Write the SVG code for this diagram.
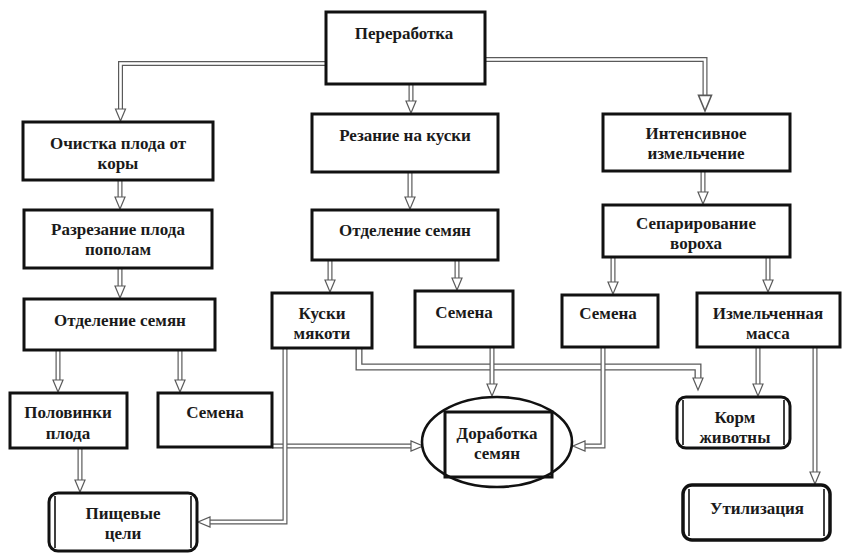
<svg xmlns="http://www.w3.org/2000/svg" width="843" height="553" viewBox="0 0 843 553">
  <defs>
    <style>
      .box { fill: #fff; stroke: #111; stroke-width: 3; }
      .term { fill: #fff; stroke: #111; stroke-width: 3; }
      .side { fill: none; stroke: #111; stroke-width: 1.6; }
      .lbl { font-family: "Liberation Serif", "Times New Roman", serif; font-weight: bold; font-size: 17px; fill: #1a1a1a; text-anchor: middle; dominant-baseline: central; }
      .pipe-o { fill: none; stroke: #5a5a5a; stroke-width: 5; stroke-linejoin: miter; }
      .pipe-i { fill: none; stroke: #fff; stroke-width: 2.6; stroke-linejoin: miter; }
      .head { fill: #fff; stroke: #5a5a5a; stroke-width: 1.2; stroke-linejoin: miter; }
    </style>
    <!-- hollow arrowhead, tip at origin, pointing down -->
    <path id="hd" d="M-5,-12 L5,-12 L0,0 Z"/>
  </defs>
  <rect width="843" height="553" fill="#fff"/>

  <!-- connectors: double-line pipes with hollow heads -->
  <g id="connectors">
    <g id="shafts">
      <path class="pipe-o" d="M326,63.5 H120.5 V110"/>
      <path class="pipe-i" d="M326,63.5 H120.5 V110"/>
      <path class="pipe-o" d="M411,84 V102"/>
      <path class="pipe-i" d="M411,84 V102"/>
      <path class="pipe-o" d="M485,59.5 H705 V96"/>
      <path class="pipe-i" d="M485,59.5 H705 V96"/>
      <path class="pipe-o" d="M120,180 V198"/>
      <path class="pipe-i" d="M120,180 V198"/>
      <path class="pipe-o" d="M120,268 V287"/>
      <path class="pipe-i" d="M120,268 V287"/>
      <path class="pipe-o" d="M58,350 V381"/>
      <path class="pipe-i" d="M58,350 V381"/>
      <path class="pipe-o" d="M180,350 V381"/>
      <path class="pipe-i" d="M180,350 V381"/>
      <path class="pipe-o" d="M80,448 V481"/>
      <path class="pipe-i" d="M80,448 V481"/>
      <path class="pipe-o" d="M410,172 V198"/>
      <path class="pipe-i" d="M410,172 V198"/>
      <path class="pipe-o" d="M330,260 V281"/>
      <path class="pipe-i" d="M330,260 V281"/>
      <path class="pipe-o" d="M457,260 V279"/>
      <path class="pipe-i" d="M457,260 V279"/>
      <path class="pipe-o" d="M703,171 V193"/>
      <path class="pipe-i" d="M703,171 V193"/>
      <path class="pipe-o" d="M613,257 V283"/>
      <path class="pipe-i" d="M613,257 V283"/>
      <path class="pipe-o" d="M768,257 V281"/>
      <path class="pipe-i" d="M768,257 V281"/>
      <path class="pipe-o" d="M272,446 H412"/>
      <path class="pipe-i" d="M272,446 H412"/>
      <path class="pipe-o" d="M285,348 V522 H209"/>
      <path class="pipe-i" d="M285,348 V522 H209"/>
      <path class="pipe-o" d="M359,348 V367 H698 V378" style="stroke-width:7"/>
      <path class="pipe-i" d="M359,348 V367 H698 V378" style="stroke-width:4.4"/>
      <path class="pipe-o" d="M492,347 V384"/>
      <path class="pipe-i" d="M492,347 V384"/>
      <path class="pipe-o" d="M603,347 V446 H584"/>
      <path class="pipe-i" d="M603,347 V446 H584"/>
      <path class="pipe-o" d="M758,347 V385"/>
      <path class="pipe-i" d="M758,347 V385"/>
      <path class="pipe-o" d="M815,347 V472"/>
      <path class="pipe-i" d="M815,347 V472"/>
    </g>
    <g id="heads">
      <use href="#hd" class="head" transform="translate(120.5,121)"/>
      <use href="#hd" class="head" transform="translate(411,113)"/>
      <use href="#hd" class="head" transform="translate(705,111) scale(1.3)"/>
      <use href="#hd" class="head" transform="translate(120,209)"/>
      <use href="#hd" class="head" transform="translate(120,298)"/>
      <use href="#hd" class="head" transform="translate(58,392)"/>
      <use href="#hd" class="head" transform="translate(180,392)"/>
      <use href="#hd" class="head" transform="translate(80,492)"/>
      <use href="#hd" class="head" transform="translate(410,209)"/>
      <use href="#hd" class="head" transform="translate(330,292)"/>
      <use href="#hd" class="head" transform="translate(457,290)"/>
      <use href="#hd" class="head" transform="translate(703,204)"/>
      <use href="#hd" class="head" transform="translate(613,294)"/>
      <use href="#hd" class="head" transform="translate(768,292)"/>
      <use href="#hd" class="head" transform="translate(423,446) rotate(-90)"/>
      <use href="#hd" class="head" transform="translate(198,522) rotate(90)"/>
      <use href="#hd" class="head" transform="translate(698,390)"/>
      <use href="#hd" class="head" transform="translate(492,396)"/>
      <use href="#hd" class="head" transform="translate(573,446) rotate(90)"/>
      <use href="#hd" class="head" transform="translate(758,396)"/>
      <use href="#hd" class="head" transform="translate(815,484)"/>
    </g>
  </g>

  <g id="n-pererabotka">
    <rect class="box" x="326" y="12" width="159" height="72"/>
    <text class="lbl" x="404" y="33">Переработка</text>
  </g>

  <!-- left branch -->
  <g id="n-ochistka">
    <rect class="box" x="23" y="122" width="190" height="58"/>
    <text class="lbl" x="118" y="143">Очистка плода от</text>
    <text class="lbl" x="118" y="163">коры</text>
  </g>
  <g id="n-razrezanie">
    <rect class="box" x="24" y="210" width="188" height="58"/>
    <text class="lbl" x="118" y="229">Разрезание плода</text>
    <text class="lbl" x="118" y="249">пополам</text>
  </g>
  <g id="n-otdelenie-1">
    <rect class="box" x="24" y="299" width="191" height="51"/>
    <text class="lbl" x="120" y="320">Отделение семян</text>
  </g>
  <g id="n-polovinki">
    <rect class="box" x="10" y="393" width="117" height="55"/>
    <text class="lbl" x="68" y="412">Половинки</text>
    <text class="lbl" x="68" y="433">плода</text>
  </g>
  <g id="n-semena-1">
    <rect class="box" x="158" y="393" width="114" height="54"/>
    <text class="lbl" x="215" y="412">Семена</text>
  </g>
  <g id="n-pishchevye">
    <rect class="term" x="49" y="493" width="148" height="58" rx="9"/>
    <path class="side" d="M55,496 V548 M191,496 V548"/>
    <text class="lbl" x="123" y="513">Пищевые</text>
    <text class="lbl" x="123" y="533">цели</text>
  </g>

  <!-- middle branch -->
  <g id="n-rezanie">
    <rect class="box" x="312" y="114" width="186" height="58"/>
    <text class="lbl" x="405" y="135">Резание на куски</text>
  </g>
  <g id="n-otdelenie-2">
    <rect class="box" x="312" y="210" width="186" height="50"/>
    <text class="lbl" x="405" y="230">Отделение семян</text>
  </g>
  <g id="n-kuski">
    <rect class="box" x="272" y="293" width="100" height="55"/>
    <text class="lbl" x="322" y="313">Куски</text>
    <text class="lbl" x="322" y="333">мякоти</text>
  </g>
  <g id="n-semena-2">
    <rect class="box" x="415" y="291" width="98" height="56"/>
    <text class="lbl" x="464" y="312">Семена</text>
  </g>
  <g id="n-dorabotka">
    <ellipse cx="497" cy="442" rx="75" ry="45" fill="#fff" stroke="#111" stroke-width="2.6"/>
    <rect class="box" x="445" y="412" width="107" height="65" style="fill:none"/>
    <text class="lbl" x="497" y="433">Доработка</text>
    <text class="lbl" x="497" y="453">семян</text>
  </g>

  <!-- right branch -->
  <g id="n-intensivnoe">
    <rect class="box" x="603" y="114" width="187" height="57"/>
    <text class="lbl" x="696" y="133">Интенсивное</text>
    <text class="lbl" x="696" y="153">измельчение</text>
  </g>
  <g id="n-separirovanie">
    <rect class="box" x="603" y="205" width="187" height="52"/>
    <text class="lbl" x="696" y="223">Сепарирование</text>
    <text class="lbl" x="696" y="243">вороха</text>
  </g>
  <g id="n-semena-3">
    <rect class="box" x="562" y="295" width="96" height="52"/>
    <text class="lbl" x="608" y="313">Семена</text>
  </g>
  <g id="n-izmelchennaya">
    <rect class="box" x="697" y="293" width="143" height="54"/>
    <text class="lbl" x="768" y="313">Измельченная</text>
    <text class="lbl" x="768" y="333">масса</text>
  </g>
  <g id="n-korm">
    <rect class="term" x="677" y="397" width="113" height="51" rx="9"/>
    <path class="side" d="M683,400 V445 M784,400 V445"/>
    <text class="lbl" x="735" y="417">Корм</text>
    <text class="lbl" x="735" y="437">животны</text>
  </g>
  <g id="n-utilizaciya">
    <rect class="term" x="683" y="485" width="147" height="55" rx="9" style="stroke-width:3.5"/>
    <path class="side" d="M689,489 V536 M824,489 V536"/>
    <text class="lbl" x="757" y="508">Утилизация</text>
  </g>
</svg>
